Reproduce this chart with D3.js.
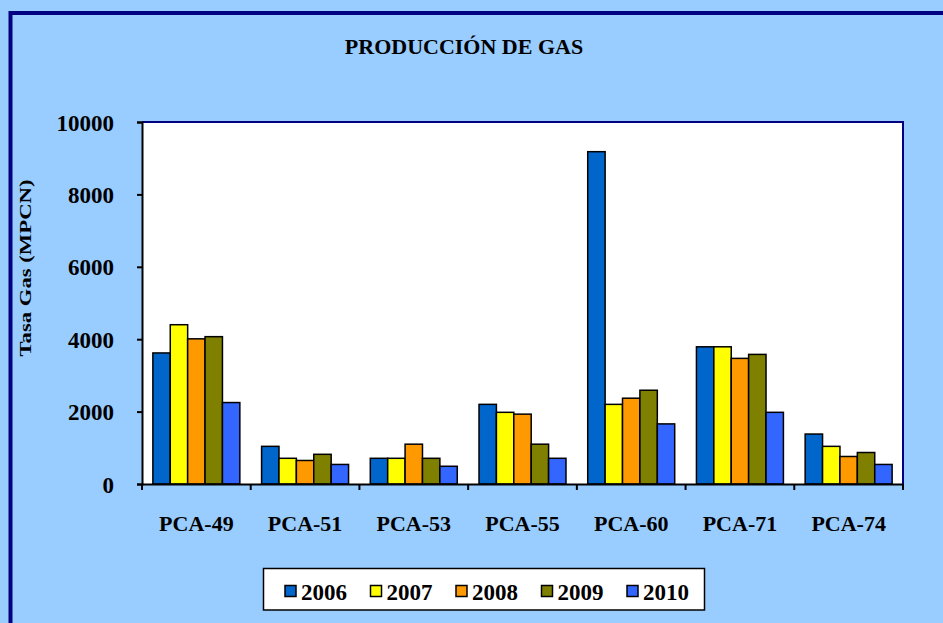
<!DOCTYPE html>
<html>
<head>
<meta charset="utf-8">
<script src="https://cdn.jsdelivr.net/npm/d3@7"></script>
<style>
  html, body { margin: 0; padding: 0; background: #99CCFF; }
  svg { display: block; }
  text { font-family: "Liberation Serif", "Times New Roman", serif; font-weight: bold; fill: #000; }
</style>
</head>
<body>
<svg id="chart" width="943" height="623"></svg>
<script>
const categories = ["PCA-49", "PCA-51", "PCA-53", "PCA-55", "PCA-60", "PCA-71", "PCA-74"];
const years = ["2006", "2007", "2008", "2009", "2010"];
const s2006 = [3620, 1040, 710, 2200, 9180, 3790, 1380];
const s2007 = [4400, 710, 710, 1980, 2200, 3790, 1040];
const s2008 = [4010, 650, 1100, 1930, 2370, 3470, 760];
const s2009 = [4070, 820, 710, 1100, 2590, 3580, 870];
const s2010 = [2250, 540, 490, 710, 1660, 1980, 540];
const yTicks = [0, 2000, 4000, 6000, 8000, 10000];
const colors = ["#0066CC", "#FFFF00", "#FF9900", "#808000", "#3366FF"];

(function () {
const series = [s2006, s2007, s2008, s2009, s2010];
const svg = d3.select("#chart");

// background & frame
svg.append("rect").attr("x", 0).attr("y", 0).attr("width", 943).attr("height", 623).attr("fill", "#99CCFF");
svg.append("rect").attr("x", 10.5).attr("y", 13).attr("width", 960).attr("height", 640)
  .attr("fill", "none").attr("stroke", "#000080").attr("stroke-width", 4);

const pLeft = 142, pRight = 903, pTop = 122, pBottom = 484;

const x0 = d3.scaleBand().domain(categories).range([pLeft, pRight]).paddingInner(0).paddingOuter(0);
const x1 = d3.scaleBand().domain(years).range([0, x0.bandwidth()]).paddingInner(0).paddingOuter(0.625);
const y = d3.scaleLinear().domain([0, 10000]).range([pBottom, pTop]);

// plot area
svg.append("rect").attr("x", pLeft).attr("y", pTop).attr("width", pRight - pLeft).attr("height", pBottom - pTop)
  .attr("fill", "#FFFFFF");
svg.append("path").attr("d", `M${pLeft},${pTop}H${pRight}V${pBottom}`).attr("fill", "none")
  .attr("stroke", "#000080").attr("stroke-width", 2);

// title
svg.append("text").attr("x", 464).attr("y", 54).attr("text-anchor", "middle")
  .style("font-size", "22px").text("PRODUCCIÓN DE GAS");

// bars
const groups = svg.append("g").selectAll("g").data(categories).join("g")
  .attr("transform", d => `translate(${x0(d)},0)`);
groups.selectAll("rect").data((c, ci) => years.map((yr, si) => ({yr, si, v: series[si][ci]})))
  .join("rect")
  .attr("x", d => x1(d.yr))
  .attr("width", x1.bandwidth())
  .attr("y", d => y(d.v))
  .attr("height", d => y(0) - y(d.v))
  .attr("fill", d => colors[d.si])
  .attr("stroke", "#000").attr("stroke-width", 1.5);

// y axis
const yAxis = svg.append("g").attr("transform", `translate(${pLeft},0)`)
  .call(d3.axisLeft(y).tickValues(yTicks).tickSize(5).tickPadding(23).tickFormat(d3.format("d")));
yAxis.select(".domain").attr("stroke", "#000").attr("stroke-width", 2);
yAxis.selectAll(".tick line").attr("stroke", "#000").attr("stroke-width", 2);
yAxis.selectAll(".tick text").style("font-size", "23px").attr("font-family", null).attr("dy", "0.35em");

// x axis
const xAxis = svg.append("g").attr("transform", `translate(0,${pBottom})`)
  .call(d3.axisBottom(x0).tickSize(0).tickPadding(31));
xAxis.select(".domain").attr("stroke", "#000").attr("stroke-width", 2);
xAxis.selectAll(".tick text").style("font-size", "22px").attr("font-family", null);
const bounds = categories.map(c => x0(c)).concat([x0.range()[1]]);
svg.append("g").selectAll("line").data(bounds).join("line")
  .attr("x1", d => d).attr("x2", d => d).attr("y1", pBottom).attr("y2", pBottom + 6)
  .attr("stroke", "#000").attr("stroke-width", 2);

// y axis title
svg.append("text").attr("transform", "translate(31,268) rotate(-90)").attr("text-anchor", "middle")
  .attr("textLength", 177).attr("lengthAdjust", "spacingAndGlyphs")
  .style("font-size", "16px").text("Tasa Gas (MPCN)");

// legend
const lg = svg.append("g");
lg.append("rect").attr("x", 263.5).attr("y", 568.5).attr("width", 441).attr("height", 41.5)
  .attr("fill", "#FFFFFF").attr("stroke", "#000").attr("stroke-width", 1.5);
const legendX = d3.scalePoint().domain(years).range([285, 627]);
const items = lg.selectAll("g").data(years).join("g")
  .attr("transform", d => `translate(${legendX(d)},0)`);
items.append("rect").attr("x", 0).attr("y", 585.5).attr("width", 11).attr("height", 11)
  .attr("fill", (d, i) => colors[i]).attr("stroke", "#000").attr("stroke-width", 1.5);
items.append("text").attr("x", 16).attr("y", 600).style("font-size", "23px").text(d => d);
})();
</script>
</body>
</html>
